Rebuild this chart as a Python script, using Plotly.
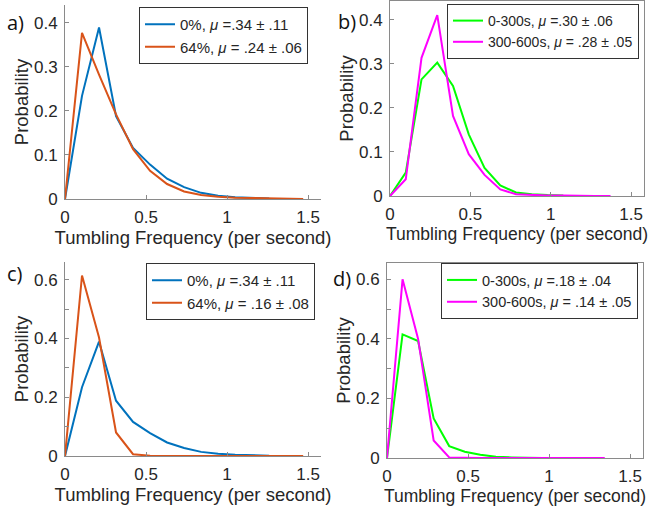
import plotly.graph_objects as go

# ---------------- data ----------------
# panels a) and c): 0% vs 64%
x_ac = [0, 0.105, 0.21, 0.315, 0.42, 0.525, 0.63, 0.735, 0.84, 0.945, 1.05, 1.155, 1.26, 1.365, 1.47]
p0_pct = [0, 0.234, 0.389, 0.188, 0.116, 0.078, 0.046, 0.027, 0.014, 0.0075, 0.004, 0.002, 0.001]
a_p64 = [0, 0.377, 0.282, 0.192, 0.113, 0.064, 0.034, 0.017, 0.009, 0.005, 0.003, 0.002, 0.001, 0.0005, 0]
c_p64 = [0, 0.614, 0.403, 0.080, 0.006, 0.001, 0, 0, 0, 0, 0, 0, 0, 0, 0]

# panel b)
x_b = [0, 0.098, 0.196, 0.294, 0.392, 0.49, 0.588, 0.686, 0.784, 0.882, 0.98, 1.078, 1.176, 1.274, 1.372]
b_early = [0, 0.053, 0.265, 0.303, 0.25, 0.14, 0.064, 0.024, 0.008, 0.004, 0.002, 0.001]
b_late = [0, 0.038, 0.314, 0.411, 0.182, 0.095, 0.048, 0.015, 0.004, 0.002, 0.001, 0.001, 0, 0, 0]

# panel d)
x_d = [0, 0.096, 0.192, 0.288, 0.384, 0.48, 0.576, 0.672, 0.768, 0.864, 0.96, 1.056, 1.152, 1.248, 1.344]
d_early = [0, 0.415, 0.393, 0.133, 0.04, 0.021, 0.011, 0.004, 0.002, 0.001, 0]
d_late = [0, 0.60, 0.40, 0.059, 0.002, 0, 0, 0, 0, 0, 0, 0, 0, 0, 0]

names_a = ["0%, <i>μ</i> =.34 ± .11", "64%, <i>μ</i> = .24 ± .06"]
names_b = ["0-300s, <i>μ</i> =.30 ± .06", "300-600s, <i>μ</i> = .28 ± .05"]
names_c = ["0%, <i>μ</i> =.34 ± .11", "64%, <i>μ</i> = .16 ± .08"]
names_d = ["0-300s, <i>μ</i> =.18 ± .04", "300-600s, <i>μ</i> = .14 ± .05"]

x_ticks = [0, 0.5, 1, 1.5]
x_tick_text = ["0", "0.5", "1", "1.5"]
y_ticks_ab = [0, 0.1, 0.2, 0.3, 0.4]
y_tick_text_ab = ["0", "0.1", "0.2", "0.3", "0.4"]
y_ticks_cd = [0, 0.2, 0.4, 0.6]
y_tick_text_cd = ["0", "0.2", "0.4", "0.6"]

BLUE = "#0072BD"
RED = "#D95319"
GREEN = "#00FF00"
MAGENTA = "#FF00FF"

W, H = 654, 510
FONT = "Liberation Sans, Arial, sans-serif"
TXT = "#262626"
AX = "#8a8a8a"

fig = go.Figure()

def add(x, y, name, color, xa, ya, leg):
    fig.add_trace(go.Scatter(x=x[:len(y)], y=y, name=name, mode="lines",
                             line=dict(color=color, width=2),
                             xaxis=xa, yaxis=ya, legend=leg))

add(x_ac, p0_pct, names_a[0], BLUE, "x", "y", "legend")
add(x_ac, a_p64, names_a[1], RED, "x", "y", "legend")
add(x_b, b_early, names_b[0], GREEN, "x2", "y2", "legend2")
add(x_b, b_late, names_b[1], MAGENTA, "x2", "y2", "legend2")
add(x_ac, p0_pct, names_c[0], BLUE, "x3", "y3", "legend3")
add(x_ac, c_p64, names_c[1], RED, "x3", "y3", "legend3")
add(x_d, d_early, names_d[0], GREEN, "x4", "y4", "legend4")
add(x_d, d_late, names_d[1], MAGENTA, "x4", "y4", "legend4")

def px_x(p):
    return p / W

def px_y(p):
    return 1 - p / H

# plot-area pixel boxes (left, right, top, bottom)
boxes = {
    "1": (65, 321, 5, 199),
    "2": (390, 644, 1, 196),
    "3": (65, 321, 262, 456),
    "4": (387, 643, 263, 458),
}
yr = {"1": 0.44, "2": 0.443, "3": 0.66, "4": 0.655}
mirror = {"1": False, "2": True, "3": False, "4": True}
xtitle_size = {"1": 18.5, "2": 17.5, "3": 18.5, "4": 17.5}
layout = {}
for k, (l, r, t, b) in boxes.items():
    xs = "xaxis" if k == "1" else "xaxis" + k
    ys = "yaxis" if k == "1" else "yaxis" + k
    anchor_y = "y" if k == "1" else "y" + k
    anchor_x = "x" if k == "1" else "x" + k
    ab = k in ("1", "2")
    layout[xs] = dict(
        domain=[px_x(l), px_x(r)], anchor=anchor_y, range=[0, 1.58],
        tickvals=x_ticks, ticktext=x_tick_text, ticks="inside", ticklen=4,
        tickcolor=AX, showline=True, linecolor=AX, linewidth=1, mirror=mirror[k],
        showgrid=False, zeroline=False, ticklabelstandoff=3, automargin=False,
        tickfont=dict(family=FONT, size=17, color=TXT),
        title=dict(text="Tumbling Frequency (per second)", standoff=2,
                   font=dict(family=FONT, size=xtitle_size[k], color=TXT)),
    )
    yd = dict(
        domain=[px_y(b), px_y(t)], anchor=anchor_x, range=[0, yr[k]],
        tickvals=y_ticks_ab if ab else y_ticks_cd,
        ticktext=y_tick_text_ab if ab else y_tick_text_cd,
        ticks="inside", ticklen=4, tickcolor=AX,
        showline=True, linecolor=AX, linewidth=1, mirror=mirror[k],
        showgrid=False, zeroline=False, ticklabelstandoff=3, automargin=False,
        tickfont=dict(family=FONT, size=17, color=TXT),
        title=dict(text="Probability", standoff=0,
                   font=dict(family=FONT, size=18.5, color=TXT)),
    )
    if not ab:
        yd["minor"] = dict(dtick=0.1, ticks="inside", ticklen=4, tickcolor=AX)
    layout[ys] = yd

def legend_at(l, t, size):
    return dict(x=px_x(l), y=px_y(t), xanchor="left", yanchor="top",
                xref="paper", yref="paper",
                bgcolor="white", bordercolor="#333333", borderwidth=1,
                font=dict(family=FONT, size=size, color=TXT),
                itemwidth=30, tracegroupgap=0)

layout["legend"] = legend_at(139, 7, 15)
layout["legend2"] = legend_at(447, 4, 14)
layout["legend3"] = legend_at(146, 263, 15)
layout["legend4"] = legend_at(441, 263, 14.5)

annots = []
for lab, xp, yp in [("a)", 15, 23), ("b)", 347, 22), ("c)", 15, 273), ("d)", 342, 278)]:
    annots.append(dict(text=lab, x=px_x(xp), y=px_y(yp), xref="paper", yref="paper",
                       showarrow=False, xanchor="center", yanchor="middle",
                       font=dict(family="Open Sans, Liberation Sans, sans-serif", size=20, color="#111111")))

fig.update_layout(
    width=W, height=H, margin=dict(l=0, r=0, t=0, b=0, autoexpand=False),
    paper_bgcolor="white", plot_bgcolor="white",
    showlegend=True, annotations=annots, **layout,
)

fig.write_html("out.html", config={"displayModeBar": False},
               post_script="document.body.style.margin='0';document.body.style.padding='0';")
